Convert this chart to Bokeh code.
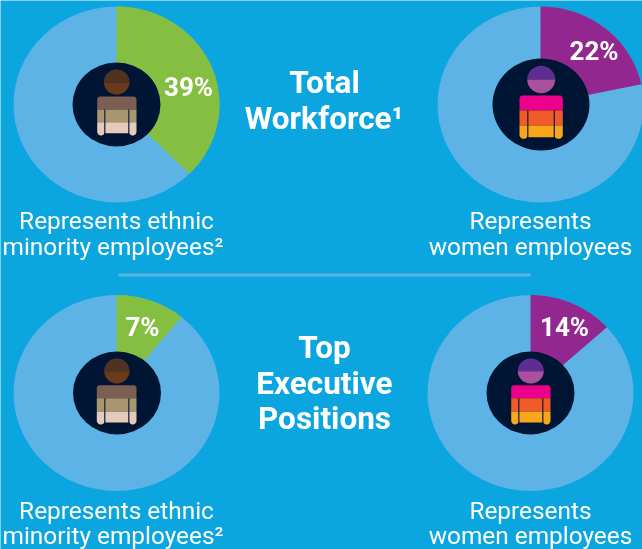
import numpy as np
from bokeh.plotting import figure
from bokeh.models import Range1d
from bokeh.core.properties import value
from bokeh.embed import file_html
from bokeh.resources import INLINE

W, H = 642, 549
BG = "#0ba5df"
PIE = "#5db3e6"
DARK = "#001534"
GREEN = "#84bf41"
PURPLE = "#92278f"

# values as labelled, and the share of the circle that each slice visibly spans
pct_labels = ["39%", "22%", "7%", "14%"]
slice_share = [37.5, 21.7, 10.9, 13.3]
slice_colors = [GREEN, PURPLE, GREEN, PURPLE]

pie_cx = [116, 540, 116, 530]
pie_cy = [104, 104, 392.5, 392.5]
pie_rx = [103, 103, 103, 103]
pie_ry = [98, 98, 98, 98]

hub_cx = [116, 540.5, 116.5, 530]
hub_cy = [104, 104, 392.5, 392.5]
hub_rx = [44, 48.5, 44, 44]
hub_ry = [42, 46, 41.5, 41.5]

label_x = [188, 593.5, 142, 564]
label_y = [86.5, 50, 326.5, 326.5]

caption_lines = ["Represents ethnic", "minority employees²", "Represents", "women employees",
                 "Represents ethnic", "minority employees²", "Represents", "women employees"]
caption_x = [116, 112.5, 530, 530, 116, 112.5, 530, 530]
caption_y = [219.5, 245.5, 219.5, 245.5, 509.5, 534.5, 509.5, 534.5]

title_lines = ["Total", "Workforce¹", "Top", "Executive", "Positions"]
title_x = [324, 323.5, 324, 324, 324]
title_y = [82, 118, 347, 383, 418]

# pictogram geometry: head box and split, body box, tier breaks, arm slits, torso bottom
figures = [
    dict(head=(103.3, 129, 69, 94, 82), body=(96.7, 136, 96, 135), br=(109, 121.7),
         slit=(104.3, 128.3), torso=132.7, hc=("#4f3322", "#6b3a1a"),
         bc=("#7a5f52", "#a89670", "#e6cabb")),
    dict(head=(526.7, 554.7, 65.3, 92.7, 79), body=(519, 562.3, 95, 138.3), br=(110, 125),
         slit=(527.3, 553.7), torso=136.7, hc=("#5e2d91", "#a9509f"),
         bc=("#ec008c", "#f15a29", "#faa61a")),
    dict(head=(103.7, 129, 358, 383, 370.7), body=(96.3, 136, 384.7, 424), br=(397.7, 411),
         slit=(104.3, 128.3), torso=422, hc=("#4f3322", "#6b3a1a"),
         bc=("#7a5f52", "#a89670", "#e6cabb")),
    dict(head=(517.3, 543.3, 358, 383, 370.7), body=(510.7, 550, 384.7, 424), br=(397.7, 411),
         slit=(518.3, 542.3), torso=422, hc=("#5e2d91", "#a9509f"),
         bc=("#ec008c", "#f15a29", "#faa61a")),
]

p = figure(width=W, height=H, x_range=Range1d(0, W), y_range=Range1d(H, 0),
           output_backend="svg", toolbar_location=None, min_border=0,
           background_fill_color=BG, border_fill_color=BG, outline_line_color=None)
p.axis.visible = False
p.grid.visible = False
p.styles = {"position": "fixed", "left": "0", "top": "0"}

# pies
p.ellipse(pie_cx, pie_cy, width=[2 * r for r in pie_rx], height=[2 * r for r in pie_ry],
          fill_color=PIE, line_color=None)
for cx, cy, rx, ry, share, col in zip(pie_cx, pie_cy, pie_rx, pie_ry, slice_share, slice_colors):
    t = np.linspace(0, 2 * np.pi * share / 100, 120)
    xs = np.r_[cx, cx + rx * np.sin(t)]
    ys = np.r_[cy, cy - ry * np.cos(t)]
    p.patch(xs, ys, fill_color=col, line_color=None)

# hubs
p.ellipse(hub_cx, hub_cy, width=[2 * r for r in hub_rx], height=[2 * r for r in hub_ry],
          fill_color=DARK, line_color=None)


def half_disc(x0, x1, y0, y1, ym, upper):
    cx, cy, rx, ry = (x0 + x1) / 2, (y0 + y1) / 2, (x1 - x0) / 2, (y1 - y0) / 2
    lim = np.arccos(np.clip((ym - cy) / ry, -1, 1))
    t = np.linspace(-lim, lim, 60) if not upper else np.linspace(lim, 2 * np.pi - lim, 60)
    return cx + rx * np.sin(t), cy + ry * np.cos(t)


def rounded(x0, x1, y0, y1, rt=0.0, rb=0.0):
    def arc(cx, cy, r, a0, a1):
        a = np.radians(np.linspace(a0, a1, 8))
        return cx + r * np.cos(a), cy + r * np.sin(a)
    a = arc(x0 + rt, y0 + rt, rt, 180, 270)
    b = arc(x1 - rt, y0 + rt, rt, 270, 360)
    c = arc(x1 - rb, y1 - rb, rb, 0, 90)
    d = arc(x0 + rb, y1 - rb, rb, 90, 180)
    return np.r_[a[0], b[0], c[0], d[0]], np.r_[a[1], b[1], c[1], d[1]]


for f in figures:
    hx0, hx1, hy0, hy1, hm = f["head"]
    xs, ys = half_disc(hx0, hx1, hy0, hy1, hm, True)
    p.patch(xs, ys, fill_color=f["hc"][0], line_color=None)
    xs, ys = half_disc(hx0, hx1, hy0, hy1, hm, False)
    p.patch(xs, ys, fill_color=f["hc"][1], line_color=None)

    bx0, bx1, by0, by1 = f["body"]
    b1, b2 = f["br"]
    s0, s1 = f["slit"]
    arm = (s0 - bx0) / 2
    # shoulders tier
    xs, ys = rounded(bx0, bx1, by0, b1, rt=3, rb=0)
    p.patch(xs, ys, fill_color=f["bc"][0], line_color=None)
    # middle tier
    p.quad(left=bx0, right=bx1, top=b1, bottom=b2, fill_color=f["bc"][1], line_color=None)
    # low tier torso
    p.quad(left=s0, right=s1, top=b2, bottom=f["torso"], fill_color=f["bc"][2], line_color=None)
    # arm ends
    for ax0, ax1 in ((bx0, s0), (s1, bx1)):
        xs, ys = rounded(ax0, ax1, b2, by1, rt=0, rb=arm)
        p.patch(xs, ys, fill_color=f["bc"][2], line_color=None)
    # slits between arms and torso
    p.quad(left=[s0 - 0.5, s1 - 0.5], right=[s0 + 0.6, s1 + 0.6], top=b1, bottom=by1,
           fill_color=DARK, line_color=None)

# divider
p.line([118, 530], [274.5, 274.5], line_color=PIE, line_width=3)

FONT = value("Roboto")
p.text(label_x, label_y, text=pct_labels, text_font=FONT, text_font_style="bold",
       text_font_size="26px", text_color="white", text_align="center", text_baseline="middle")
p.text(caption_x, caption_y, text=caption_lines, text_font=FONT, text_font_size="24.4px",
       text_color="white", text_align="center", text_baseline="middle")
p.text(title_x, title_y, text=title_lines, text_font=FONT, text_font_style="bold",
       text_font_size="31.5px", text_color="white", text_align="center", text_baseline="middle")

open("out.html", "w").write(file_html(p, INLINE))
